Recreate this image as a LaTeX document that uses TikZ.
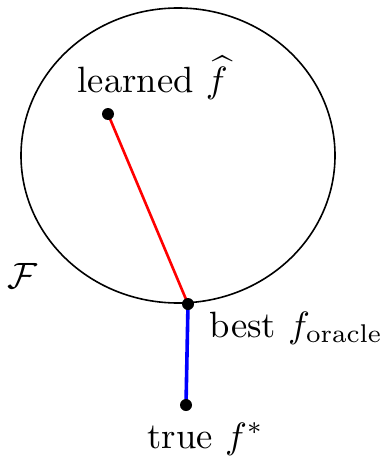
\documentclass[tikz,border=0pt]{standalone}
\usepackage{amsmath}
\begin{document}
\begin{tikzpicture}[x=1pt,y=-1pt,
  dot/.style={circle,fill=black,inner sep=0pt,minimum size=12pt},
  lbl/.style={inner sep=0pt,scale=3.66},
  set/.style={draw=black,line width=1.6pt},
  estline/.style={draw=red,line width=2.6pt},
  apxline/.style={draw=blue,line width=3.6pt}]
\useasboundingbox (0,0) rectangle (387,458);
\draw[set] (178,155.5) ellipse [x radius=157, y radius=147.5];
\coordinate (L) at (108,114);
\coordinate (B) at (188,304);
\coordinate (T) at (186,405);
\draw[estline] (L) -- (B);
\draw[apxline] (B) -- (T);
\node[dot] (learned) at (L) {};
\node[dot] (best) at (B) {};
\node[dot] (true) at (T) {};
\node[lbl,anchor=base west] (learnedlbl) at (77,92) {learned $\widehat{f}$};
\node[lbl,anchor=base west] (bestlbl) at (209,337) {best $f_{\text{oracle}}$};
\node[lbl,anchor=base west] (truelbl) at (147,448) {true $f^{*}$};
\node[lbl,anchor=base west] (Flbl) at (7,288) {$\mathcal{F}$};
\end{tikzpicture}
\end{document}
